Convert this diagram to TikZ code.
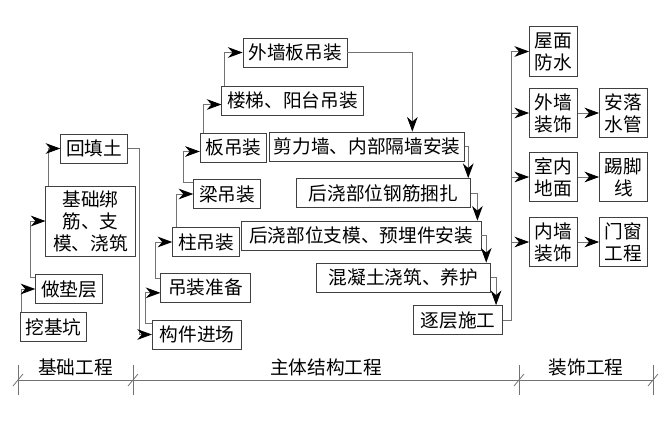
\documentclass[tikz,border=0pt]{standalone}
\usepackage{fontspec}
\setmainfont{Noto Sans CJK SC}
\usetikzlibrary{arrows.meta}

\tikzset{
	tip/.tip={Stealth[length=11pt, width=8pt, inset=3.5pt]},
}

\begin{document}
\begin{tikzpicture}[x=0.75pt, y={(0pt,-0.75pt)},
	box/.style={draw=black!75, fill=white, line width=0.6pt, minimum height=21.75pt, inner xsep=4pt, inner ysep=2pt, font=\fontsize{14}{16.5}\selectfont, align=center},
	wide/.style={box, minimum width=67pt},
	tall/.style={box, minimum width=36pt, minimum height=37pt},
	lbl/.style={font=\fontsize{14}{16.5}\selectfont, inner sep=0pt},
	link/.style={draw=black!55, line width=0.6pt},
	arr/.style={link, -{tip[black]}},
	]
	
	\useasboundingbox (0,0) rectangle (670,422);
	
	% foundation
	\node[box] (wjk) at (53.5,327) {挖基坑};
	\node[box] (zdc) at (69,289) {做垫层};
	\node[box, minimum width=67pt, minimum height=52.5pt] (jc) at (90.5,221) {基础绑\\筋、支\\模、浇筑};
	\node[box] (htt) at (94,148.5) {回填土};
	
	\draw[arr] ([xshift=1pt]wjk.north west) |- (zdc.west);
	\draw[arr] ([yshift=-2.5pt]zdc.north west) -- ++(-5,0) |- (jc.west);
	\draw[arr] ([xshift=2.5pt]jc.north west) |- (htt.west);
	
	% main structure
	\node[wide] (gjjc) at (197,334.5) {构件进场};
	\node[wide] (dzzb) at (205.5,287.5) {吊装准备};
	\node[box] (zdz) at (206,242) {柱吊装};
	\node[box] (ldz) at (227,194) {梁吊装};
	\node[box] (bdz) at (233.5,147.5) {板吊装};
	\node[box] (lt) at (292.5,100.5) {楼梯、阳台吊装};
	\node[box] (wqb) at (295,52.5) {外墙板吊装};
	\node[box, inner xsep=3pt] (jlq) at (367,146.5) {剪力墙、内部隔墙安装};
	\node[box, minimum width=131pt] (gjkz) at (383.5,193) {后浇部位钢筋捆扎};
	\node[box, minimum width=180pt] (zm) at (361,235.5) {后浇部位支模、预埋件安装};
	\node[box, minimum width=131pt] (hnt) at (403.5,277.5) {混凝土浇筑、养护};
	\node[wide] (zc) at (458,320) {逐层施工};
	
	\draw[arr] (htt.east) -- ++(12,0) |- (gjjc.west);
	\draw[arr] ([yshift=-2.5pt]gjjc.north west) -- ++(-7,0) |- ([yshift=-4pt]dzzb.west);
	\draw[arr] ([yshift=-4.5pt]dzzb.north west) -- ++(-5,0) |- (zdz.west);
	\draw[arr] ([xshift=3pt]zdz.north west) |- (ldz.west);
	\draw[arr] ([yshift=-2.5pt]ldz.north west) -- ++(-10,0) |- ([yshift=-3pt]bdz.west);
	\draw[arr] ([xshift=2.5pt]bdz.north west) |- ([yshift=-3pt]lt.west);
	\draw[arr] ([xshift=2pt]lt.north west) |- (wqb.west);
	\draw[arr] (wqb.east) -| ([xshift=34pt]jlq.north);
	\draw[arr] (jlq.east) -| ([xshift=-2.25pt]gjkz.north east);
	\draw[arr] (gjkz.east) -| ([xshift=-3pt]zm.north east);
	\draw[arr] (zm.east) -| ([xshift=-3.75pt]hnt.north east);
	\draw[arr] (hnt.east) -| ([xshift=-5.25pt]zc.north east);
	
	% decoration
	\node[tall] (wm) at (553.5,51.5) {屋面\\防水};
	\node[tall] (wqzs) at (553.5,113) {外墙\\装饰};
	\node[tall] (snd) at (553.5,177) {室内\\地面};
	\node[tall] (nqzs) at (553.5,242) {内墙\\装饰};
	\node[tall] (alsg) at (623.5,113) {安落\\水管};
	\node[tall] (tjx) at (623.5,177) {踢脚\\线};
	\node[tall] (mc) at (623.5,242) {门窗\\工程};
	
	\draw[arr] (zc.east) -| ([xshift=-13.5pt]wm.west) -- (wm.west);
	\draw[arr] ([xshift=-13.5pt]wqzs.west) -- (wqzs.west);
	\draw[arr] ([xshift=-13.5pt]snd.west) -- (snd.west);
	\draw[arr] ([xshift=-13.5pt]nqzs.west) -- (nqzs.west);
	\draw[arr] (wqzs) -- (alsg);
	\draw[arr] (snd) -- (tjx);
	\draw[arr] (nqzs) -- (mc);
	
	% stages
	\draw[link] (18,380) -- (653,380);
	\foreach \x in {18,133,519,653} {
		\draw[link] (\x,365) -- (\x,395);
		\draw[link] (\x-5,386) -- (\x+5,374);
	}
	\node[lbl] (jcgc) at (75.5,367) {基础工程};
	\node[lbl] (ztgc) at (326,367) {主体结构工程};
	\node[lbl] (zsgc) at (586,367) {装饰工程};
	
\end{tikzpicture}
\end{document}
